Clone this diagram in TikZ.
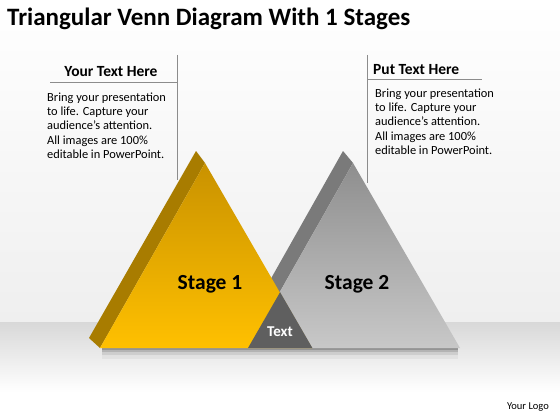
\documentclass[tikz,border=0pt]{standalone}
\usepackage{fontspec}
\setmainfont{Carlito}
\usetikzlibrary{positioning}

\definecolor{goldtop}{HTML}{C99200}
\definecolor{goldbot}{HTML}{FFC000}
\definecolor{goldside}{HTML}{A87C00}
\definecolor{greytop}{HTML}{8E8E8E}
\definecolor{greybot}{HTML}{C8C8C8}
\definecolor{greyside}{HTML}{7A7A7A}
\definecolor{overlapgrey}{HTML}{5F5F5F}
\definecolor{floorgrey}{HTML}{D8D8D8}
\definecolor{wallgrey}{HTML}{EFEFEF}
\definecolor{leadergrey}{HTML}{8C8C8C}

\begin{document}
\begin{tikzpicture}[
    x=1pt, y=-1pt,
    heading/.style={
        font=\fontsize{15.5}{18}\selectfont\bfseries,
        inner sep=0pt,
    },
    bodytext/.style={
        font=\fontsize{12.4}{14.3}\selectfont,
        align=left,
        inner sep=0pt,
        anchor=north west,
    },
    stagelabel/.style={
        font=\fontsize{21.5}{24}\selectfont\bfseries,
        inner sep=0pt,
    },
    leaderline/.style={
        draw=leadergrey,
        line width=0.8pt,
    }
]
    % Background
    \useasboundingbox (0,0) rectangle (560,420);
    \shade[top color=white, bottom color=wallgrey] (0,0) rectangle (560,322);
    \shade[top color=floorgrey, bottom color=white] (0,322) rectangle (560,392);
    \fill[white] (0,392) rectangle (560,420);

    % Title
    \node[anchor=west, inner sep=0pt, font=\fontsize{25}{28}\selectfont\bfseries] (title) at (7,19) {Triangular Venn Diagram With 1 Stages};

    % Text boxes
    \node[heading] (lefthead) at (111,72) {Your Text Here};
    \node[bodytext] (leftbody) at (47,92.5) {Bring your presentation\\to life. Capture your\\audience’s attention.\\All images are 100\%\\editable in PowerPoint.};
    \node[heading, anchor=west] (righthead) at (373,69.3) {Put Text Here};
    \node[bodytext] (rightbody) at (375,88.5) {Bring your presentation\\to life. Capture your\\audience’s attention.\\All images are 100\%\\editable in PowerPoint.};

    % Leader lines
    \coordinate (lefttop) at (177,55);
    \coordinate (leftfoot) at (177,180);
    \coordinate (leftcorner) at (177,82);
    \coordinate (leftend) at (50,82);
    \coordinate (righttop) at (367,55);
    \coordinate (rightfoot) at (367,183);
    \coordinate (rightcorner) at (367,79);
    \coordinate (rightend) at (482,79);
    \draw[leaderline] (lefttop) -- (leftfoot);
    \draw[leaderline] (leftend) -- (leftcorner);
    \draw[leaderline] (righttop) -- (rightfoot);
    \draw[leaderline] (rightcorner) -- (rightend);

    % Shadow
    \foreach \d/\o in {2/0.16, 4/0.12, 7/0.08, 11/0.04}
        \fill[black, opacity=\o] (102,348) rectangle (458,348+\d);

    % Grey triangle
    \fill[greyside] (343,151) -- (353,163) -- (248,348) -- (238,337) -- cycle;
    \shade[shading angle=20, top color=greytop, bottom color=greybot] (353,163) -- (248,348) -- (460,348) -- cycle;

    % Yellow triangle
    \fill[goldside] (196,151) -- (205,163) -- (100,348) -- (89,338) -- cycle;
    \shade[top color=goldtop, bottom color=goldbot] (205,163) -- (100,348) -- (312,348) -- cycle;

    % Overlap
    \fill[overlapgrey] (280.1,292.2) -- (248,348) -- (312.4,348) -- cycle;

    % Labels
    \node[stagelabel] (stage1) at (210,284.5) {Stage 1};
    \node[stagelabel] (stage2) at (357,284.5) {Stage 2};
    \node[font=\fontsize{15}{17}\selectfont\bfseries, text=white, inner sep=0pt] (common) at (280,331.5) {Text};
    \node[font=\fontsize{10.5}{12}\selectfont, inner sep=0pt] (logo) at (528,407) {Your Logo};
\end{tikzpicture}
\end{document}
